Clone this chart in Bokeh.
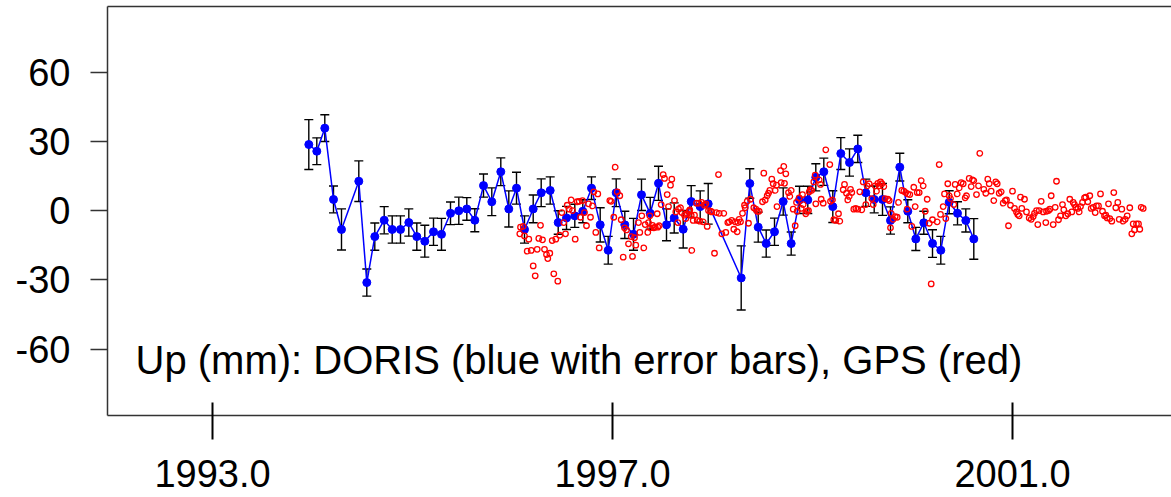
from bokeh.plotting import figure
from bokeh.models import ColumnDataSource, Whisker, TeeHead, Range1d, FixedTicker, LinearAxis, Label
from bokeh.embed import file_html
from bokeh.resources import INLINE

# ---------------- data ----------------
doris_year = [1993.963, 1994.043, 1994.123, 1994.210, 1994.290, 1994.463, 1994.543, 1994.623,
              1994.717, 1994.797, 1994.880, 1994.963, 1995.043, 1995.123, 1995.210, 1995.290,
              1995.380, 1995.463, 1995.543, 1995.623, 1995.710, 1995.793, 1995.883, 1995.963,
              1996.040, 1996.120, 1996.207, 1996.287, 1996.377, 1996.457, 1996.540, 1996.623,
              1996.703, 1996.790, 1996.877, 1996.957, 1997.037, 1997.123, 1997.210, 1997.290,
              1997.377, 1997.460, 1997.540, 1997.617, 1997.707, 1997.787, 1997.877, 1997.957,
              1998.287, 1998.373, 1998.457, 1998.537, 1998.620, 1998.707, 1998.787, 1998.870,
              1998.953, 1999.033, 1999.113, 1999.203, 1999.283, 1999.370, 1999.453, 1999.533,
              1999.617, 1999.700, 1999.780, 1999.873, 1999.953, 2000.033, 2000.113, 2000.200,
              2000.283, 2000.367, 2000.450, 2000.533, 2000.613]
doris_up = [28.6, 25.7, 35.7, 4.8, -8.2, 12.7, -31.2, -11.3,
            -4.2, -8.2, -8.2, -5.2, -11.3, -13.3, -9.2, -10.3,
            -1.2, -0.1, 0.7, -4.2, 10.8, 3.8, 16.8, 0.7,
            9.7, -8.2, 0.7, 7.7, 8.7, -5.2, -3.2, -2.3,
            -0.3, 9.7, -6.2, -17.2, 7.7, -6.2, -10.3, 6.8,
            -1.2, 11.8, -6.2, -3.2, -8.1, 3.9, 1.7, 2.9,
            -29.2, 11.7, -7.2, -14.3, -9.2, 3.9, -14.3, 4.6,
            4.6, 14.4, 16.8, 1.7, 24.7, 20.8, 26.7, 7.7,
            4.8, 4.8, -4.3, 18.8, -0.3, -12.3, -5.3, -14.3,
            -17.2, 3.6, -1.2, -4.3, -12.3]
doris_err = [10.8, 5.8, 5.8, 5.8, 8.9, 8.8, 5.9, 5.9,
             5.9, 5.9, 5.9, 5.9, 5.9, 6.9, 5.9, 6.9,
             4.9, 5.9, 4.9, 5.0, 5.0, 6.0, 6.0, 7.8,
             6.9, 5.9, 6.0, 6.0, 5.9, 5.1, 5.0, 5.0,
             5.0, 4.9, 7.4, 6.0, 6.0, 5.9, 6.9, 6.8,
             6.9, 7.4, 6.9, 6.5, 8.1, 6.9, 6.8, 8.8,
             13.9, 6.4, 6.5, 5.9, 5.9, 5.9, 5.0, 5.9,
             5.9, 5.9, 5.9, 6.9, 6.9, 5.9, 5.9, 5.9,
             5.8, 6.9, 5.9, 6.0, 5.0, 5.0, 5.0, 6.0,
             6.0, 5.0, 5.0, 5.0, 8.8]

gps_year = [1996.073, 1996.080, 1996.107, 1996.120, 1996.147, 1996.163, 1996.187, 1996.207, 1996.227, 1996.247,
            1996.263, 1996.280, 1996.300, 1996.320, 1996.340, 1996.353, 1996.373, 1996.397, 1996.413, 1996.433,
            1996.453, 1996.473, 1996.493, 1996.513, 1996.530, 1996.547, 1996.567, 1996.587, 1996.600, 1996.627,
            1996.647, 1996.667, 1996.680, 1996.700, 1996.720, 1996.740, 1996.760, 1996.780, 1996.800, 1996.813,
            1996.833, 1996.853, 1996.867, 1996.973, 1996.987, 1997.013, 1997.027, 1997.047, 1997.073, 1997.087,
            1997.107, 1997.120, 1997.140, 1997.160, 1997.187, 1997.200, 1997.220, 1997.233, 1997.260, 1997.273,
            1997.293, 1997.313, 1997.327, 1997.353, 1997.360, 1997.373, 1997.380, 1997.400, 1997.413, 1997.427,
            1997.447, 1997.453, 1997.467, 1997.487, 1997.507, 1997.520, 1997.547, 1997.560, 1997.580, 1997.593,
            1997.620, 1997.633, 1997.653, 1997.660, 1997.680, 1997.693, 1997.720, 1997.733, 1997.747, 1997.767,
            1997.773, 1997.787, 1997.793, 1997.807, 1997.820, 1997.840, 1997.847, 1997.867, 1997.873, 1997.893,
            1997.907, 1997.920, 1997.933, 1997.947, 1997.960, 1997.980, 1997.993, 1998.020, 1998.040, 1998.060,
            1998.067, 1998.093, 1998.113, 1998.133, 1998.153, 1998.167, 1998.193, 1998.213, 1998.227, 1998.247,
            1998.253, 1998.267, 1998.280, 1998.300, 1998.320, 1998.327, 1998.347, 1998.360, 1998.380, 1998.413,
            1998.433, 1998.447, 1998.467, 1998.500, 1998.513, 1998.527, 1998.547, 1998.560, 1998.573, 1998.593,
            1998.607, 1998.627, 1998.640, 1998.645, 1998.680, 1998.687, 1998.713, 1998.720, 1998.733, 1998.760,
            1998.773, 1998.787, 1998.807, 1998.827, 1998.840, 1998.847, 1998.867, 1998.887, 1998.900, 1998.907,
            1998.933, 1998.947, 1998.960, 1998.967, 1998.980, 1998.993, 1999.013, 1999.027, 1999.033, 1999.067,
            1999.080, 1999.087, 1999.107, 1999.133, 1999.173, 1999.180, 1999.200, 1999.213, 1999.233, 1999.260,
            1999.273, 1999.307, 1999.320, 1999.340, 1999.353, 1999.367, 1999.380, 1999.393, 1999.413, 1999.433,
            1999.453, 1999.473, 1999.493, 1999.507, 1999.533, 1999.547, 1999.567, 1999.593, 1999.607, 1999.627,
            1999.640, 1999.653, 1999.667, 1999.680, 1999.693, 1999.713, 1999.727, 1999.753, 1999.767, 1999.780,
            1999.787, 1999.807, 1999.827, 1999.847, 1999.860, 1999.893, 1999.913, 1999.933, 1999.947, 1999.953,
            1999.973, 1999.993, 2000.013, 2000.027, 2000.047, 2000.067, 2000.087, 2000.107, 2000.127, 2000.147,
            2000.167, 2000.187, 2000.200, 2000.247, 2000.267, 2000.280, 2000.307, 2000.320, 2000.333, 2000.353,
            2000.367, 2000.380, 2000.413, 2000.427, 2000.447, 2000.467, 2000.487, 2000.507, 2000.527, 2000.540,
            2000.567, 2000.587, 2000.600, 2000.613, 2000.640, 2000.660, 2000.673, 2000.713, 2000.733, 2000.753,
            2000.767, 2000.787, 2000.813, 2000.833, 2000.847, 2000.867, 2000.887, 2000.907, 2000.927, 2000.940,
            2000.960, 2000.980, 2001.000, 2001.020, 2001.040, 2001.053, 2001.067, 2001.080, 2001.093, 2001.120,
            2001.140, 2001.167, 2001.187, 2001.207, 2001.220, 2001.240, 2001.253, 2001.267, 2001.287, 2001.307,
            2001.333, 2001.340, 2001.360, 2001.373, 2001.387, 2001.407, 2001.427, 2001.440, 2001.460, 2001.480,
            2001.500, 2001.513, 2001.533, 2001.553, 2001.573, 2001.593, 2001.607, 2001.620, 2001.633, 2001.653,
            2001.667, 2001.680, 2001.700, 2001.720, 2001.733, 2001.753, 2001.773, 2001.787, 2001.807, 2001.827,
            2001.840, 2001.860, 2001.880, 2001.900, 2001.920, 2001.933, 2001.947, 2001.960, 2001.973, 2001.993,
            2002.013, 2002.033, 2002.053, 2002.067, 2002.093, 2002.107, 2002.127, 2002.147, 2002.173, 2002.193,
            2002.207, 2002.220, 2002.240, 2002.260, 2002.273, 2002.287, 2002.307]
gps_up = [-10.1, -7.2, -6.9, -11.0, -17.6, -12.4, -17.3, -24.0, -28.3, -16.8,
          -12.1, -6.4, -12.7, -16.8, -19.1, -20.8, -18.5, -13.0, -27.4, -12.4,
          -30.6, -10.7, -0.9, -5.2, -10.1, 2.3, 0.6, 4.6, 0.0, -12.4,
          3.8, 4.0, -2.9, 4.3, -0.9, -6.6, 2.9, -2.9, 2.0, 8.1,
          -9.5, 7.2, -16.2, 4.3, 4.0, -2.9, 18.8, 8.1, 6.4, -4.0,
          -20.2, -7.5, -8.4, -14.4, -11.3, -19.9, -11.8, -15.0, -5.2, -9.5,
          -2.3, -16.2, -6.1, -9.5, -5.2, -2.3, -7.5, -6.4, -7.5, -7.2,
          -1.4, -7.2, -6.6, 2.6, 15.6, 13.9, 6.9, 1.7, 11.0, 13.6,
          4.3, -0.6, -5.2, 0.6, 1.2, -0.9, -2.0, -3.5, -1.4, -0.3,
          0.3, -2.0, -17.3, -4.3, -2.0, 3.2, -4.3, 3.2, -4.6, 3.5,
          -4.9, 2.3, 2.9, -6.9, 0.0, -0.3, -0.6, -18.5, -0.9, 15.6,
          -1.2, -10.1, -1.2, -9.5, -5.2, -4.9, -4.3, -8.1, -4.9, -9.2,
          -5.2, -3.8, -4.9, -1.2, 2.3, 1.2, 4.0, -5.5, 4.9, 1.2,
          0.6, -0.3, -0.3, 3.8, 16.2, 4.6, 6.4, 7.5, 8.7, 13.6,
          11.6, 8.7, 11.0, 1.7, 17.3, 12.1, 19.1, 11.8, 15.9, 7.8,
          6.1, 8.7, 0.6, -6.6, 3.5, -0.3, 5.5, 0.9, 6.9, 2.6,
          -1.4, -0.3, 0.0, 8.1, 9.0, 8.7, 12.4, 15.3, 2.9, 13.3,
          11.3, 4.9, 3.2, 26.3, 19.9, 4.0, 4.6, -4.0, -4.3, -1.4,
          -4.6, 9.0, 11.3, 7.5, 4.6, 6.1, 9.2, 7.8, 0.6, 0.9,
          0.6, 8.1, 0.3, 12.4, 2.6, 10.7, 11.6, 5.2, 2.6, 10.7,
          8.4, 11.8, 10.7, 12.4, 11.6, 10.4, 5.2, 4.9, 4.3, -7.5,
          -1.2, -3.8, -2.6, -2.9, 3.5, 8.7, 8.4, 7.8, 0.6, 7.2,
          6.9, -6.9, 10.1, 1.7, 7.8, 7.8, 13.0, 10.7, -0.3, 4.9,
          -5.5, -31.8, -4.0, -4.9, 19.9, -1.7, 1.7, 7.2, -3.5, 11.6,
          6.4, 5.2, 2.6, 11.3, 7.2, 9.8, 12.1, 11.6, 5.5, 6.4,
          13.9, 10.4, 13.3, 13.0, 6.9, 10.7, 24.8, 9.2, 7.5, 13.6,
          11.6, 8.4, 4.3, 12.4, 11.6, 7.5, 8.1, 3.2, 4.3, 4.6,
          -6.6, 2.3, 8.4, 0.9, -0.6, -1.7, -2.3, 5.8, 0.9, 4.9,
          -0.6, -3.2, -3.8, -2.6, -1.2, 0.0, -6.1, 0.0, 4.0, -0.6,
          -5.2, -0.3, 0.0, 0.6, 6.4, -6.1, 1.4, 12.7, -4.0, -2.3,
          2.6, 0.3, -2.3, -1.4, 4.9, -0.6, 3.5, 2.6, 1.4, 0.9,
          -0.6, 1.7, 3.5, 5.5, 5.8, 3.8, 6.4, 0.9, 1.4, -0.9,
          2.0, 2.0, 7.2, -0.3, -2.3, -2.0, -3.2, 2.9, -3.5, -4.6,
          7.8, 1.2, 3.5, -3.8, 0.6, -4.6, -3.8, -2.3, 1.2, -10.1,
          -5.8, -8.4, -5.8, -5.8, -8.1, 1.4, 0.9]

x_ticks = [1993.0, 1997.0, 2001.0]
x_tick_labels = ["1993.0", "1997.0", "2001.0"]
y_ticks = [-60, -30, 0, 30, 60]
y_tick_labels = ["-60", "-30", "0", "30", "60"]
note_text = "Up (mm): DORIS (blue with error bars), GPS (red)"

FONT = "Liberation Sans"
FS = "38px"

doris_src = ColumnDataSource(dict(
    x=doris_year, y=doris_up,
    upper=[v + e for v, e in zip(doris_up, doris_err)],
    lower=[v - e for v, e in zip(doris_up, doris_err)],
))

p = figure(width=1171, height=497, output_backend="svg", toolbar_location=None,
           x_range=Range1d(1991.95, 2002.59), y_range=Range1d(-88.8, 88.4),
           min_border_left=107, min_border_right=0, min_border_top=6, min_border_bottom=82)
p.outline_line_color = None
p.xgrid.visible = False
p.ygrid.visible = False
p.background_fill_color = "white"
p.border_fill_color = "white"

xa = p.xaxis[0]
xa.ticker = FixedTicker(ticks=x_ticks)
xa.major_label_overrides = {t: l for t, l in zip(x_ticks, x_tick_labels)}
xa.major_tick_in = 13
xa.major_tick_out = 24
xa.major_tick_line_width = 2
xa.major_tick_line_color = "black"
xa.minor_tick_line_color = None
xa.axis_line_color = "#333333"
xa.axis_line_width = 1.5
xa.major_label_text_font = FONT
xa.major_label_text_font_size = FS
xa.major_label_text_color = "black"
xa.major_label_standoff = 20

ya = p.yaxis[0]
ya.ticker = FixedTicker(ticks=y_ticks)
ya.major_label_overrides = {t: l for t, l in zip(y_ticks, y_tick_labels)}
ya.major_tick_in = 0
ya.major_tick_out = 17
ya.major_tick_line_width = 1.5
ya.major_tick_line_color = "#333333"
ya.minor_tick_line_color = None
ya.axis_line_color = "#333333"
ya.axis_line_width = 1.5
ya.major_label_text_font = FONT
ya.major_label_text_font_size = FS
ya.major_label_text_color = "black"
ya.major_label_standoff = 20

top = LinearAxis(ticker=FixedTicker(ticks=[]), major_tick_in=0, major_tick_out=0,
                 minor_tick_line_color=None, major_label_text_font_size="0px",
                 major_label_standoff=0, axis_line_color="#333333", axis_line_width=1.5)
p.add_layout(top, "above")

whisk = Whisker(source=doris_src, base="x", upper="upper", lower="lower",
                line_color="black", line_width=1.4, level="underlay",
                upper_head=TeeHead(size=9, line_color="black", line_width=1.4),
                lower_head=TeeHead(size=9, line_color="black", line_width=1.4))
p.add_layout(whisk)

p.line("x", "y", source=doris_src, line_color="blue", line_width=1.5)
p.scatter("x", "y", source=doris_src, size=8, fill_color="blue", line_color="blue")
p.scatter(gps_year, gps_up, size=5.5, fill_color=None, line_color="red", line_width=1.3)

p.add_layout(Label(x=1992.23, y=-64.6, text=note_text, text_font=FONT, text_font_size="40px",
                   text_color="black", text_baseline="alphabetic", text_align="left"))

open("out.html", "w").write(file_html(p, INLINE))
